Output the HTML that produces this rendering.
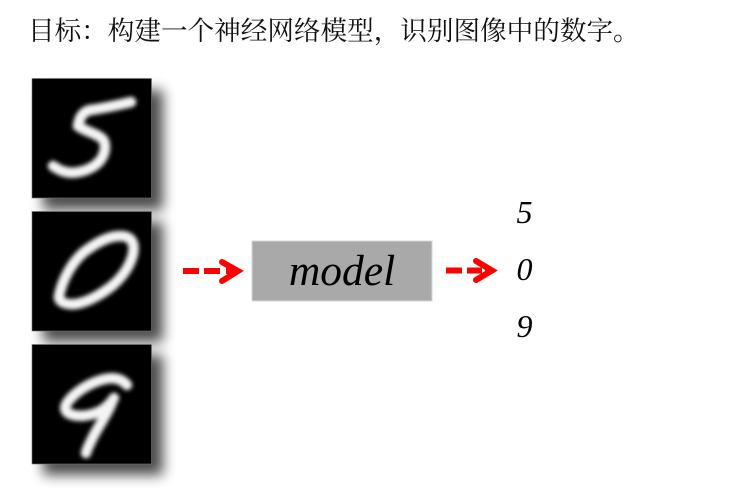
<!DOCTYPE html>
<html>
<head>
<meta charset="utf-8">
<style>
html,body{margin:0;padding:0;background:#fff;width:743px;height:495px;overflow:hidden}
svg{display:block}
</style>
</head>
<body>
<svg width="743" height="495" viewBox="0 0 743 495" xmlns="http://www.w3.org/2000/svg">
<defs>
<filter id="sh" x="-30%" y="-30%" width="170%" height="170%"><feGaussianBlur stdDeviation="6.5"/></filter>
<filter id="dg" x="-30%" y="-30%" width="160%" height="160%"><feGaussianBlur stdDeviation="2"/></filter>
</defs>
<rect x="0" y="0" width="743" height="495" fill="#fff"/>
<text x="28" y="40" font-size="26.6" font-family="'Noto Serif CJK SC','Liberation Serif',serif" fill="#111">目标：构建一个神经网络模型，识别图像中的数字。</text>

<g fill="#000" opacity=".7" filter="url(#sh)">
<rect x="43" y="90" width="120" height="120"/>
<rect x="43" y="222" width="120" height="120"/>
<rect x="43" y="355" width="120" height="120"/>
</g>
<g fill="#000" stroke="#777" stroke-width=".6">
<rect x="32" y="78.5" width="119.5" height="119.5"/>
<rect x="32" y="211.5" width="119.5" height="119.5"/>
<rect x="32" y="344.5" width="119.5" height="119.5"/>
</g>
<g fill="none" stroke="#f4f4f4" stroke-width="10.5" stroke-linecap="round" stroke-linejoin="round" filter="url(#dg)">
<path d="M131 102 C118 105 100 109 90 110 C82 112 79 119 78 126 C86 132 100 134 104 141 C107 150 103 160 94 166 C85 172 72 174 66 172 C60 171 56 168 53 166"/>
<path d="M59 296 C58 302 66 305 76 304 C88 302 102 294 113 285 C122 277 130 266 133 254 C135 243 132 236 120 236 C108 236 96 243 84 252 C71 263 62 281 59 296 Z"/>
<path d="M127 385 C122 379 115 377 105 379 C92 382 80 389 72 397 C65 404 63 409 68 413 C77 418 92 416 102 410 C108 406 112 401 114 398"/>
<path d="M112 402 C107 415 99 425 93 437 C90 443 87 449 86 453"/>
</g>

<rect x="252" y="241" width="180" height="60" fill="#a9a9a9" stroke="#d6d6d6" stroke-width="1"/>
<text x="342" y="285" text-anchor="middle" font-size="43.5" font-style="italic" font-family="'Liberation Serif',serif" fill="#000">model</text>

<g font-size="32" font-style="italic" font-family="'Liberation Serif',serif" fill="#000" text-anchor="middle">
<text x="524.5" y="223">5</text>
<text x="524.5" y="280">0</text>
<text x="524.5" y="337">9</text>
</g>

<g fill="none" stroke="#ff0000" stroke-width="6">
<path d="M183 271 H199 M204 271 H220 M226 271 H238"/>
<path d="M222 262 L238 271 L222 281" stroke-linecap="round" stroke-linejoin="miter"/>
<path d="M446 270.5 H462 M467 270.5 H482 M485 270.5 H492"/>
<path d="M476 261 L492 270.5 L476 280" stroke-linecap="round" stroke-linejoin="miter"/>
</g>
</svg>
</body>
</html>
